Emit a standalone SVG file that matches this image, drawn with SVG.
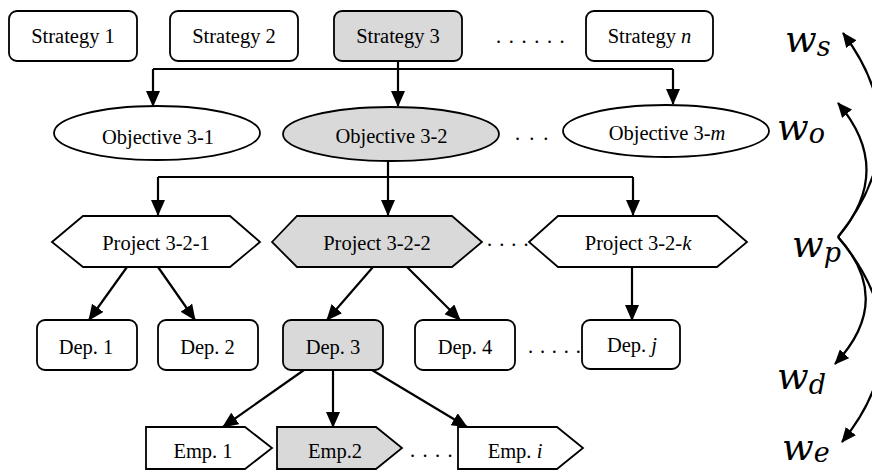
<svg xmlns="http://www.w3.org/2000/svg" width="872" height="470" viewBox="0 0 872 470">
<style>
.box{fill:#fff;stroke:#000;stroke-width:1.8}
.hl{fill:#d9d9d9}
.t{font-family:"Liberation Serif","Times New Roman",serif;font-size:20.5px;fill:#000;text-anchor:middle}
.dots{font-family:"Liberation Serif",serif;font-size:20.5px;fill:#000}
.c{fill:none;stroke:#000;stroke-width:2.2}
.w{font-family:"DejaVu Serif",serif;font-style:italic;font-size:37px;fill:#000}
.sub{font-size:27px}
</style>
<defs>
<marker id="ah" markerUnits="userSpaceOnUse" markerWidth="16" markerHeight="14" refX="15" refY="7" orient="auto">
<path d="M0,0 L16,7 L0,14 z" fill="#000"/>
</marker>
<marker id="ah2" markerUnits="userSpaceOnUse" markerWidth="15" markerHeight="13" refX="14" refY="6.5" orient="auto">
<path d="M0,0 L15,6.5 L0,13 z" fill="#000"/>
</marker>
</defs>

<g id="strategy1"><rect class="box" x="9" y="11" width="128" height="50" rx="8"/><text class="t" x="73" y="43">Strategy 1</text></g>
<g id="strategy2"><rect class="box" x="170" y="11" width="128" height="50" rx="8"/><text class="t" x="234" y="43">Strategy 2</text></g>
<g id="strategy3"><rect class="box hl" x="334" y="11" width="128" height="50" rx="8"/><text class="t" x="398" y="43">Strategy 3</text></g>
<g id="strategyn"><rect class="box" x="586" y="11" width="127" height="50" rx="8"/><text class="t" x="649.5" y="43">Strategy <tspan font-style="italic">n</tspan></text></g>
<text class="dots" x="496" y="43" letter-spacing="7.6">......</text>

<g id="obj31"><ellipse class="box" cx="157" cy="133" rx="103" ry="27"/><text class="t" x="158" y="144">Objective 3-1</text></g>
<g id="obj32"><ellipse class="box hl" cx="391" cy="134" rx="108" ry="27"/><text class="t" x="391.5" y="143">Objective 3-2</text></g>
<g id="obj3m"><ellipse class="box" cx="666" cy="131" rx="103" ry="26"/><text class="t" x="667" y="140">Objective 3-<tspan font-style="italic">m</tspan></text></g>
<text class="dots" x="515" y="140" letter-spacing="9">...</text>

<g id="proj321"><polygon class="box" points="52,242 83,216 230,216 260,242 230,267 83,267"/><text class="t" x="156" y="250">Project 3-2-1</text></g>
<g id="proj322"><polygon class="box hl" points="272,242 297,216 452,216 482,242 452,267 297,267"/><text class="t" x="377" y="250">Project 3-2-2</text></g>
<g id="proj32k"><polygon class="box" points="529,242 558,216 717,216 747,242 717,267 558,267"/><text class="t" x="638" y="250">Project 3-2-<tspan font-style="italic">k</tspan></text></g>
<text class="dots" x="487" y="246" letter-spacing="7">....</text>

<g id="dep1"><rect class="box" x="37" y="320" width="100" height="50" rx="8"/><text class="t" x="86" y="354">Dep. 1</text></g>
<g id="dep2"><rect class="box" x="158" y="320" width="100" height="50" rx="8"/><text class="t" x="207.5" y="354">Dep. 2</text></g>
<g id="dep3"><rect class="box hl" x="283" y="320" width="100" height="50" rx="8"/><text class="t" x="333" y="354">Dep. 3</text></g>
<g id="dep4"><rect class="box" x="415" y="320" width="100" height="50" rx="8"/><text class="t" x="465" y="354">Dep. 4</text></g>
<g id="depj"><rect class="box" x="582" y="320" width="98" height="49" rx="8"/><text class="t" x="632" y="352">Dep. <tspan font-style="italic">j</tspan></text></g>
<text class="dots" x="528" y="353" letter-spacing="6.8">.....</text>

<g id="emp1"><polygon class="box" points="146,427 245,427 272,448 245,469 146,469"/><text class="t" x="203" y="458">Emp. 1</text></g>
<g id="emp2"><polygon class="box hl" points="277,427 376,427 402,448 376,469 277,469"/><text class="t" x="335" y="458">Emp.2</text></g>
<g id="empi"><polygon class="box" points="458,427 557,427 583,448 557,469 458,469"/><text class="t" x="515" y="458">Emp. <tspan font-style="italic">i</tspan></text></g>
<text class="dots" x="410" y="457" letter-spacing="7.4">....</text>

<g id="connectors">
<path class="c" d="M398,61 V106" marker-end="url(#ah)"/>
<path class="c" d="M153,69 H673"/>
<path class="c" d="M153,69 V106" marker-end="url(#ah)"/>
<path class="c" d="M673,69 V104" marker-end="url(#ah)"/>
<path class="c" d="M388,161 V215" marker-end="url(#ah)"/>
<path class="c" d="M158,177 H633"/>
<path class="c" d="M158,177 V215" marker-end="url(#ah)"/>
<path class="c" d="M633,177 V215" marker-end="url(#ah)"/>
<path class="c" d="M127,267 L89,320" marker-end="url(#ah)"/>
<path class="c" d="M158,267 L195,320" marker-end="url(#ah)"/>
<path class="c" d="M373,267 L327,320" marker-end="url(#ah)"/>
<path class="c" d="M407,267 L460,320" marker-end="url(#ah)"/>
<path class="c" d="M632,267 V320" marker-end="url(#ah)"/>
<path class="c" d="M304,370 L223,427" marker-end="url(#ah)"/>
<path class="c" d="M333,370 V427" marker-end="url(#ah)"/>
<path class="c" d="M372,370 L467,427" marker-end="url(#ah)"/>
<path class="c" d="M838,237 Q920,135 843,33" marker-end="url(#ah2)"/>
<path class="c" d="M838,237 Q895,170 838,103" marker-end="url(#ah2)"/>
<path class="c" d="M838,237 Q895,300 835,364" marker-end="url(#ah2)"/>
<path class="c" d="M838,237 Q925,340 842,442" marker-end="url(#ah2)"/>
</g>

<text class="w" x="785" y="52">w<tspan class="sub" dy="4">s</tspan></text>
<text class="w" x="777" y="140">w<tspan class="sub" dy="3">o</tspan></text>
<text class="w" x="792" y="257">w<tspan class="sub" dy="5">p</tspan></text>
<text class="w" x="777" y="389">w<tspan class="sub" dy="5">d</tspan></text>
<text class="w" x="782" y="460">w<tspan class="sub" dy="2">e</tspan></text>
</svg>
